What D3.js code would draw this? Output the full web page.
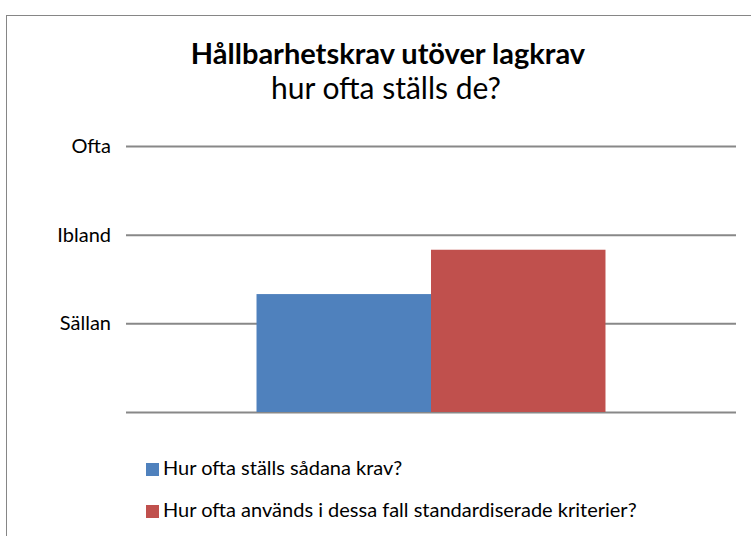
<!DOCTYPE html>
<html><head><meta charset="utf-8">
<script src="https://cdn.jsdelivr.net/npm/d3@7"></script>
<style>html,body{margin:0;padding:0;background:#fff;}svg{display:block;}</style>
</head><body>
<script>
const categories = [""];
const seriesNames = ["Hur ofta ställs sådana krav?", "Hur ofta används i dessa fall standardiserade kriterier?"];
const seriesValues = [1.33, 1.83];
const seriesColors = ["#4F81BD", "#C0504D"];
const tickValues = [0, 1, 2, 3];
const tickLabels = ["", "Sällan", "Ibland", "Ofta"];

(function () {
const W = 751, H = 536;
const font = "Lato, 'Open Sans', sans-serif";
const svg = d3.select("body").append("svg").attr("width", W).attr("height", H);

svg.append("rect").attr("x", 6.5).attr("y", 15.5).attr("width", W + 10).attr("height", H + 10)
  .attr("fill", "#fff").attr("stroke", "#868686").attr("stroke-width", 1);

svg.append("text").attr("x", 388).attr("y", 64).attr("text-anchor", "middle")
  .attr("font-family", font).attr("font-weight", "bold").attr("font-size", 29).attr("fill", "#000")
  .text("Hållbarhetskrav utöver lagkrav");
svg.append("text").attr("x", 386).attr("y", 99).attr("text-anchor", "middle")
  .attr("font-family", font).attr("font-size", 30).attr("fill", "#000")
  .text("hur ofta ställs de?");

const pL = 126, pR = 736, pT = 146, pB = 412;
const y = d3.scaleLinear().domain([0, 3]).range([pB, pT]);
const x0 = d3.scaleBand().domain(categories).range([pL, pR]).paddingInner(0).paddingOuter(0.374);
const x1 = d3.scaleBand().domain(d3.range(seriesValues.length)).range([0, x0.bandwidth()]);

const axis = d3.axisLeft(y).tickValues(tickValues).tickSize(-(pR - pL)).tickPadding(15)
  .tickFormat((d, i) => tickLabels[i]);
const g = svg.append("g").attr("transform", `translate(${pL},0)`).call(axis);
g.select(".domain").remove();
g.selectAll(".tick line").attr("stroke", "#888").attr("stroke-width", 2);
g.selectAll(".tick text").attr("font-family", font).attr("font-size", 20).attr("fill", "#000");

svg.append("g").selectAll("rect").data(seriesValues).join("rect")
  .attr("x", (d, i) => x0(categories[0]) + x1(i))
  .attr("width", x1.bandwidth())
  .attr("y", d => y(d))
  .attr("height", d => y(0) - y(d))
  .attr("fill", (d, i) => seriesColors[i]);

const leg = svg.append("g");
seriesNames.forEach((name, i) => {
  const gy = 463 + i * 42;
  leg.append("rect").attr("x", 146).attr("y", gy).attr("width", 13).attr("height", 13).attr("fill", seriesColors[i]);
  leg.append("text").attr("x", 163).attr("y", gy + 12).attr("font-family", font).attr("font-size", 20)
    .attr("fill", "#000").text(name);
});
})();
</script>
</body></html>
